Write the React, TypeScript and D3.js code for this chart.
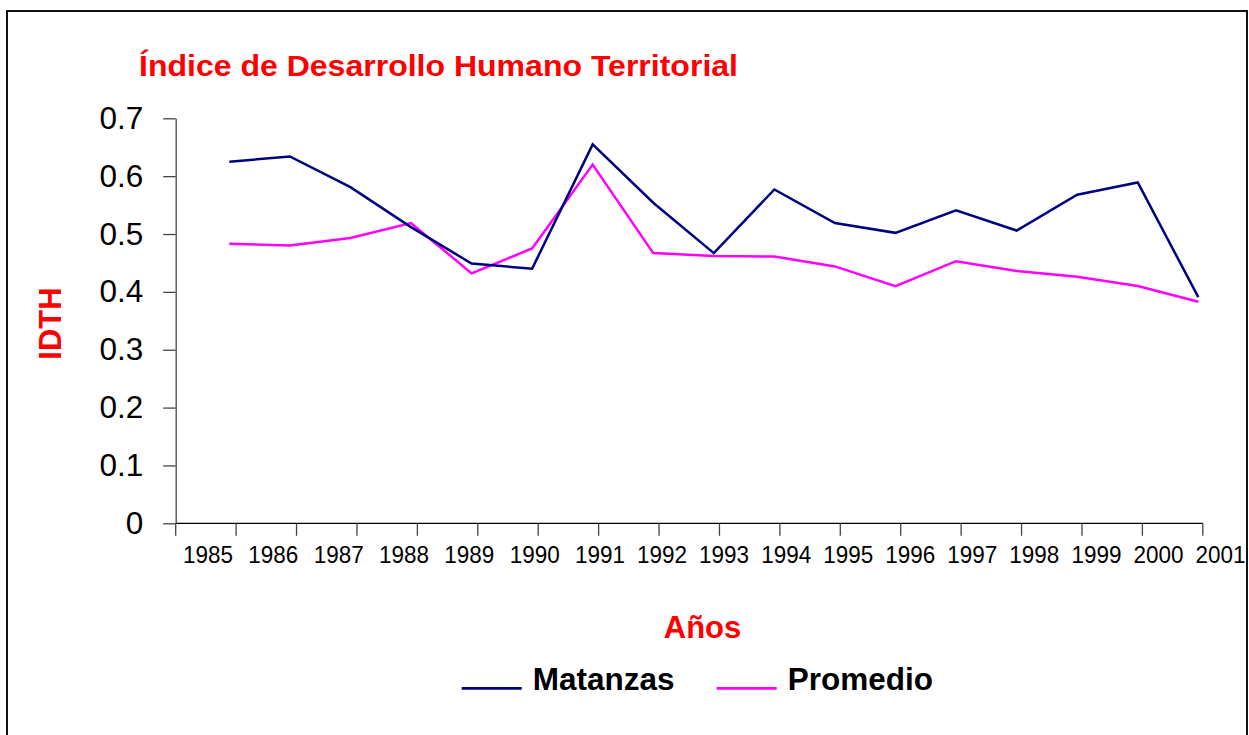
import { useEffect, useRef } from "react";
import * as d3 from "d3";

const years = [1985, 1986, 1987, 1988, 1989, 1990, 1991, 1992, 1993, 1994, 1995, 1996, 1997, 1998, 1999, 2000, 2001];
const matanzas = [0.625, 0.634, 0.581, 0.512, 0.449, 0.440, 0.655, 0.554, 0.467, 0.577, 0.519, 0.502, 0.541, 0.506, 0.568, 0.589, 0.391];
const promedio = [0.483, 0.480, 0.493, 0.519, 0.432, 0.475, 0.620, 0.467, 0.462, 0.461, 0.444, 0.410, 0.453, 0.436, 0.426, 0.410, 0.383];
const yTicks = [0, 0.1, 0.2, 0.3, 0.4, 0.5, 0.6, 0.7];
const seriesNames = ["Matanzas", "Promedio"];

const FONT = "'Liberation Sans', Arial, sans-serif";
const NAVY = "#000080";
const MAGENTA = "#ff00ff";
const RED = "#ff0000";

export default function App() {
    const svgRef = useRef<SVGSVGElement | null>(null);

    // pixels
    const wSVG = 1249;
    const hSVG = 735;
    const plot = { left: 175.7, right: 1202.8, top: 118.3, bottom: 523.3 };

    useEffect(() => {
        const svg = d3.select(svgRef.current);
        svg.selectAll("*").remove();

        // chart frame
        svg.append("rect")
            .attr("x", 7)
            .attr("y", 11)
            .attr("width", 1240)
            .attr("height", 800)
            .attr("fill", "white")
            .attr("stroke", "#111")
            .attr("stroke-width", 2);

        const yScale = d3.scaleLinear()
            .domain([0, 0.7])
            .range([plot.bottom, plot.top]);

        // points sit a little inside the tick marks (as in the original)
        const xPoint = d3.scalePoint<number>()
            .domain(years)
            .range([229.3, 1198.3]);

        // tick marks at the category edges
        const xEdge = d3.scaleLinear()
            .domain([0, years.length])
            .range([plot.left, plot.right]);

        // category labels drift relative to the tick marks
        const xLabel = d3.scaleLinear()
            .domain([1985, 1991, 2001])
            .range([208, 600, 1220.5]);

        // y axis
        const yAxis = svg.append("g")
            .attr("transform", `translate(${plot.left},0)`)
            .call(d3.axisLeft(yScale)
                .tickValues(yTicks)
                .tickFormat((d) => String(d))
                .tickSize(12.5)
                .tickSizeOuter(0)
                .tickPadding(20));
        yAxis.select(".domain").attr("stroke", "#444").attr("stroke-width", 1.3);
        yAxis.selectAll(".tick line").attr("stroke", "#444").attr("stroke-width", 1.3);
        yAxis.selectAll(".tick text")
            .attr("fill", "#000")
            .style("font-family", FONT)
            .style("font-size", "31.5px");

        // x axis
        const xAxis = svg.append("g");
        xAxis.append("line")
            .attr("x1", plot.left)
            .attr("x2", plot.right)
            .attr("y1", plot.bottom)
            .attr("y2", plot.bottom)
            .attr("stroke", "#000")
            .attr("stroke-width", 1.3);
        xAxis.selectAll("line.tick")
            .data(d3.range(years.length + 1))
            .join("line")
            .attr("class", "tick")
            .attr("x1", (d) => xEdge(d))
            .attr("x2", (d) => xEdge(d))
            .attr("y1", plot.bottom)
            .attr("y2", plot.bottom + 12.5)
            .attr("stroke", "#444")
            .attr("stroke-width", 1.3);
        xAxis.selectAll("text")
            .data(years)
            .join("text")
            .attr("x", (d) => xLabel(d))
            .attr("y", 563)
            .attr("text-anchor", "middle")
            .attr("textLength", 50)
            .attr("lengthAdjust", "spacingAndGlyphs")
            .style("font-family", FONT)
            .style("font-size", "24px")
            .text((d) => String(d));

        // lines
        const line = d3.line<number>()
            .x((_, i) => xPoint(years[i]) as number)
            .y((d) => yScale(d));

        svg.append("path")
            .datum(promedio)
            .attr("fill", "none")
            .attr("stroke", MAGENTA)
            .attr("stroke-width", 2.5)
            .attr("stroke-linejoin", "miter")
            .attr("d", line);

        svg.append("path")
            .datum(matanzas)
            .attr("fill", "none")
            .attr("stroke", NAVY)
            .attr("stroke-width", 2.5)
            .attr("stroke-linejoin", "miter")
            .attr("d", line);

        // titles
        svg.append("text")
            .attr("x", 139)
            .attr("y", 76)
            .attr("fill", RED)
            .attr("textLength", 599)
            .attr("lengthAdjust", "spacingAndGlyphs")
            .style("font-family", FONT)
            .style("font-weight", "bold")
            .style("font-size", "30px")
            .text("Índice de Desarrollo Humano Territorial");

        svg.append("text")
            .attr("transform", "translate(61,323.5) rotate(-90)")
            .attr("text-anchor", "middle")
            .attr("fill", RED)
            .style("font-family", FONT)
            .style("font-weight", "bold")
            .style("font-size", "31px")
            .text("IDTH");

        svg.append("text")
            .attr("x", 702.5)
            .attr("y", 638)
            .attr("text-anchor", "middle")
            .attr("fill", RED)
            .style("font-family", FONT)
            .style("font-weight", "bold")
            .style("font-size", "31px")
            .text("Años");

        // legend
        const legendX = [461.7, 716.7];
        const legendColors = [NAVY, MAGENTA];
        const legend = svg.append("g");
        seriesNames.forEach((name, i) => {
            legend.append("line")
                .attr("x1", legendX[i])
                .attr("x2", legendX[i] + 60)
                .attr("y1", 688.3)
                .attr("y2", 688.3)
                .attr("stroke", legendColors[i])
                .attr("stroke-width", 2.7);
            legend.append("text")
                .attr("x", legendX[i] + 71)
                .attr("y", 690)
                .attr("fill", "#000")
                .style("font-family", FONT)
                .style("font-weight", "bold")
                .style("font-size", "31.5px")
                .text(name);
        });
    }, []);

    return (
        <svg
            ref={svgRef}
            width={wSVG}
            height={hSVG}
            style={{ position: "absolute", left: 0, top: 0, background: "white" }}
        />
    );
}
